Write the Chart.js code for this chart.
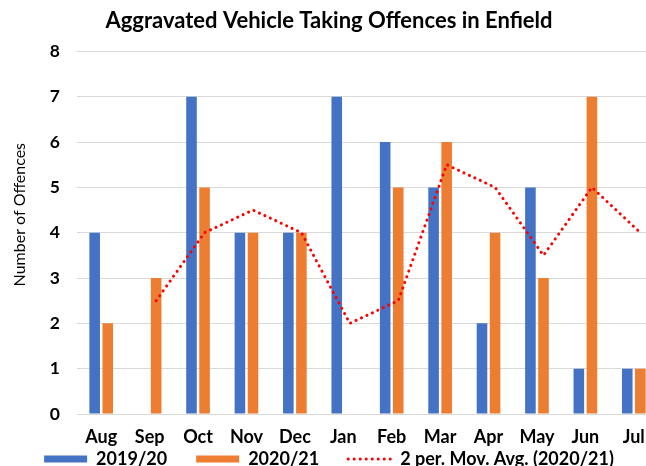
<!DOCTYPE html>
<html>
<head>
<meta charset="utf-8">
<script src="https://cdn.jsdelivr.net/npm/chart.js@4/dist/chart.umd.min.js"></script>
<style>
html,body{margin:0;padding:0;background:#fff;overflow:hidden;width:646px;height:466px;}
#wrap{position:absolute;left:0;top:0;width:658px;height:466px;}
</style>
</head>
<body>
<div id="wrap"><canvas id="c"></canvas></div>
<script>
const months = ['Aug','Sep','Oct','Nov','Dec','Jan','Feb','Mar','Apr','May','Jun','Jul'];
const series2019 = [4,0,7,4,4,7,6,5,2,5,1,1];
const series2020 = [2,3,5,4,4,0,5,6,4,3,7,1];
const movAvg2020 = [null,2.5,4,4.5,4,2,2.5,5.5,5,3.5,5,4];
const yTicks = [0,1,2,3,4,5,6,7,8];
const yTitle = 'Number of Offences';
const FONT = 'Lato, "Open Sans", sans-serif';

const lineOffset = 0.135; // the trend line points sit at the 2020/21 bar centre
const toPoints = (arr, off) => arr.map((v,i)=>({x:i+off, y:v}));
const DOTS = [0.1,5.9];

const yTitlePlugin = {
  id:'yTitle',
  afterDraw(chart){
    const {ctx, chartArea} = chart;
    ctx.save();
    ctx.translate(20, (chartArea.top + chartArea.bottom)/2 - 18);
    ctx.rotate(-Math.PI/2);
    ctx.font = '16px ' + FONT;
    ctx.fillStyle = '#000';
    ctx.textAlign = 'center';
    ctx.textBaseline = 'middle';
    ctx.fillText(yTitle, 0, 0);
    ctx.restore();
  }
};

new Chart(document.getElementById('c'), {
  type: 'bar',
  data: {
    datasets: [
      {type:'line', label:'2 per. Mov. Avg. (2020/21)', data: toPoints(movAvg2020, lineOffset),
       borderColor:'#FF0000', backgroundColor:'#FF0000', borderWidth:3, borderDash:DOTS,
       borderCapStyle:'round', pointRadius:0, pointStyle:'line', fill:false, tension:0},
      {label:'2019/20', data: toPoints(series2019, 0), backgroundColor:'#4472C4',
       pointStyle:'rect', categoryPercentage:0.54, barPercentage:0.81},
      {label:'2020/21', data: toPoints(series2020, 0), backgroundColor:'#ED7D31',
       pointStyle:'rect', categoryPercentage:0.54, barPercentage:0.81}
    ]
  },
  plugins:[yTitlePlugin],
  options: {
    responsive:true, maintainAspectRatio:false, animation:false,
    layout:{padding:{left:0,right:0,top:0,bottom:-12}},
    plugins:{
      title:{display:true, text:'Aggravated Vehicle Taking Offences in Enfield', color:'#000',
        font:{family:FONT, size:22, weight:'bold'}, padding:{top:8,bottom:17}},
      legend:{position:'bottom', labels:{usePointStyle:true, pointStyleWidth:43, boxHeight:7,
        color:'#000', font:{family:FONT, size:18, weight:'bold'}, padding:2,
        generateLabels:(chart)=>{
          const items = Chart.defaults.plugins.legend.labels.generateLabels(chart);
          const rank = (it)=> it.pointStyle === 'line' ? 99 : it.datasetIndex;
          items.sort((a,b)=>rank(a)-rank(b));
          items.forEach((it,i)=>{
            if (i < items.length-1) it.text += '\u2002\u2002\u2002';
            if (it.pointStyle === 'line') {
              it.lineDash = DOTS; it.lineCap = 'round'; it.lineWidth = 3; it.strokeStyle = '#FF0000';
            }
          });
          return items;
        }}},
      tooltip:{enabled:false}
    },
    scales:{
      x:{type:'linear', min:-0.5, max:11.5, offset:false,
        afterBuildTicks:(s)=>{ s.ticks = months.map((m,i)=>({value:i})); },
        grid:{display:false, drawTicks:false}, border:{display:false},
        ticks:{color:'#000', font:{family:FONT, size:18, weight:'bold'}, padding:12,
          autoSkip:false, maxRotation:0, callback:(v)=>months[v]},
        afterFit:(s)=>{ s.height = 34; }},
      y:{min:0, max:8, afterBuildTicks:(s)=>{s.ticks = yTicks.map(v=>({value:v}));},
        grid:{color:'#d9d9d9', drawTicks:false}, border:{display:false},
        ticks:{color:'#000', font:{family:FONT, size:17.5, weight:'bold'}, padding:17},
        afterFit:(s)=>{ s.width = 77; }}
    }
  }
});
</script>
</body>
</html>
